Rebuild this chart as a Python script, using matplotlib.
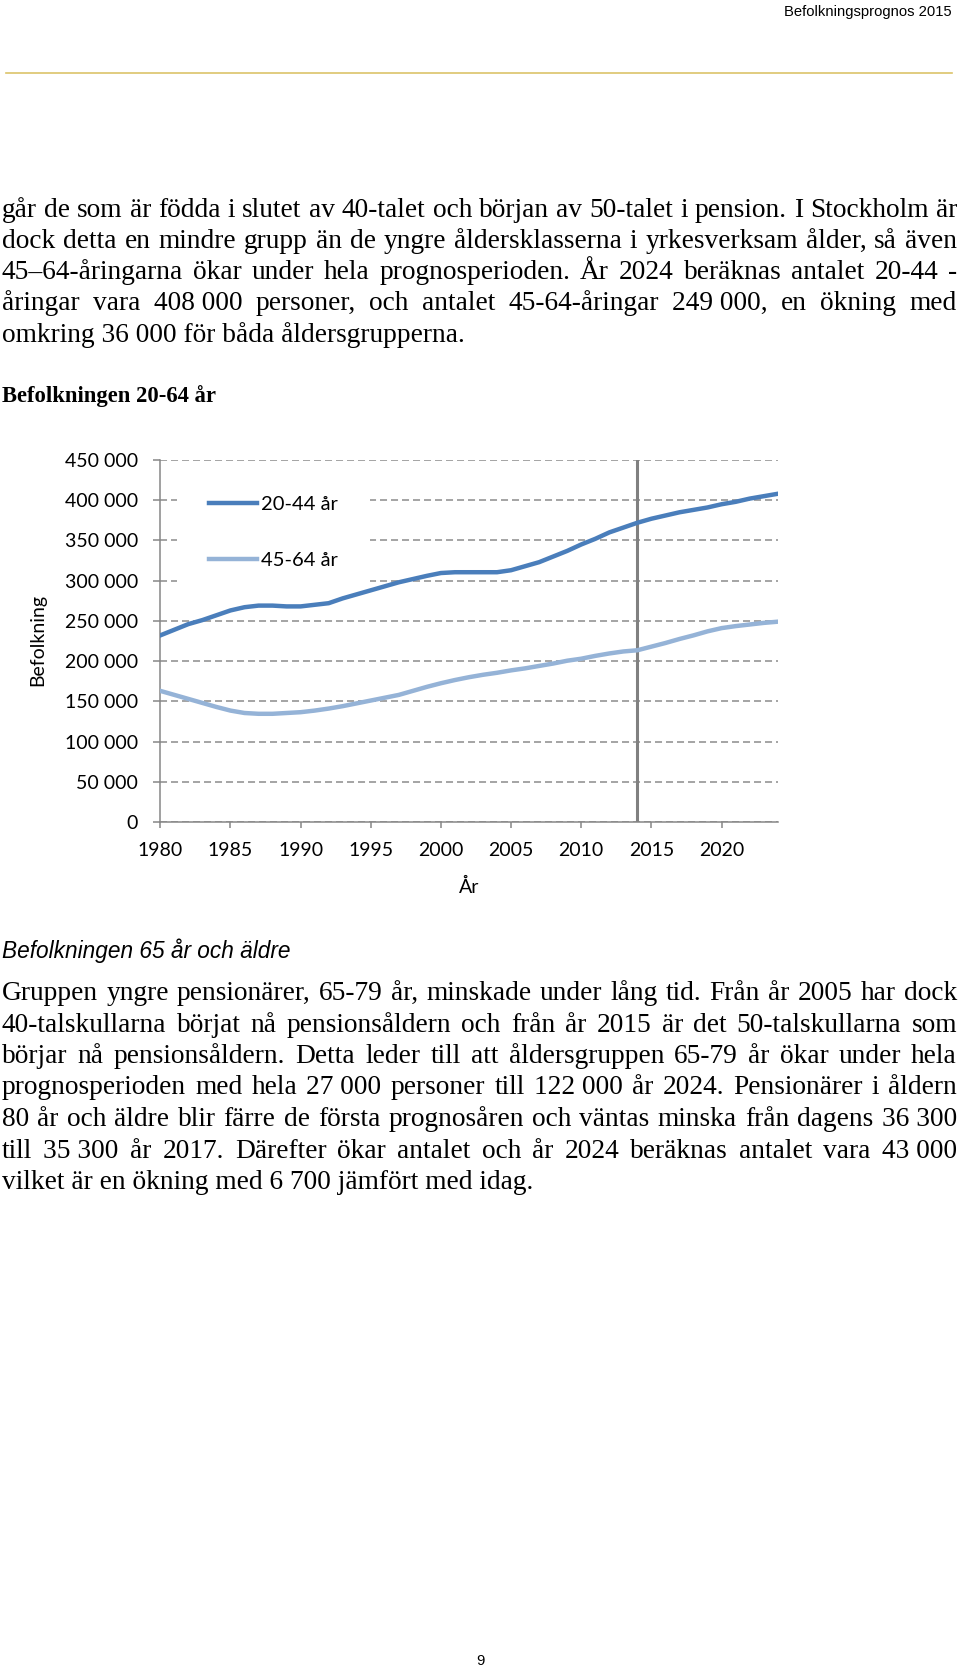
import matplotlib
matplotlib.use("Agg")
import matplotlib.pyplot as plt
from matplotlib.font_manager import FontProperties, findfont, get_font
from matplotlib.lines import Line2D
from matplotlib.patches import Rectangle
from matplotlib.ticker import FuncFormatter, MultipleLocator

# data (population, Stockholm)
years = list(range(1980, 2025))
age_20_44 = [232000, 239000, 246000, 251000, 257000, 263000, 267000, 269000, 269000, 268000,
             268000, 270000, 272000, 278000, 283000, 288000, 293000, 298000, 302000, 306000,
             309500, 310500, 310500, 310500, 310500, 313000, 318000, 323000, 330000, 337000,
             345000, 352000, 360000, 366000, 372000, 377000, 381000, 385000, 388000, 391000,
             395000, 398000, 402000, 405000, 408000]
age_45_64 = [163000, 158000, 153000, 148000, 143000, 138500, 135500, 134500, 134500, 135500,
             136500, 138500, 141000, 144000, 147500, 151000, 154500, 158000, 163000, 168000,
             172500, 176500, 180000, 183000, 185500, 188500, 191000, 194000, 197000, 200500,
             203000, 206500, 209500, 212000, 213500, 218000, 222500, 227500, 232000, 237000,
             241000, 243500, 245500, 247500, 249000]
series_labels = ["20-44 år", "45-64 år"]
forecast_start = 2014
x_ticks = [1980, 1985, 1990, 1995, 2000, 2005, 2010, 2015, 2020]

header = "Befolkningsprognos 2015"
para1 = [
    "går de som är födda i slutet av 40-talet och början av 50-talet i pension. I Stockholm är",
    "dock detta en mindre grupp än de yngre åldersklasserna i yrkesverksam ålder, så även",
    "45–64-åringarna ökar under hela prognosperioden. År 2024 beräknas antalet 20-44 -",
    "åringar vara 408\u00a0000 personer, och antalet 45-64-åringar 249\u00a0000, en ökning med",
    "omkring 36\u00a0000 för båda åldersgrupperna.",
]
heading1 = "Befolkningen 20-64 år"
heading2 = "Befolkningen 65 år och äldre"
para2 = [
    "Gruppen yngre pensionärer, 65-79 år, minskade under lång tid. Från år 2005 har dock",
    "40-talskullarna börjat nå pensionsåldern och från år 2015 är det 50-talskullarna som",
    "börjar nå pensionsåldern. Detta leder till att åldersgruppen 65-79 år ökar under hela",
    "prognosperioden med hela 27\u00a0000 personer till 122\u00a0000 år 2024. Pensionärer i åldern",
    "80 år och äldre blir färre de första prognosåren och väntas minska från dagens 36\u00a0300",
    "till 35\u00a0300 år 2017. Därefter ökar antalet och år 2024 beräknas antalet vara 43\u00a0000",
    "vilket är en ökning med 6\u00a0700 jämfört med idag.",
]

W, H = 960, 1670
fig = plt.figure(figsize=(W / 100, H / 100), dpi=100)
renderer = fig.canvas.get_renderer()


def fx(px):
    return px / W


def fy(py):
    return 1 - py / H


serif = "Liberation Serif"
body_size = 19.7


def agg_row(word, baseline):
    # pixel row where Agg really puts the baseline of a word (it rounds per string)
    try:
        from matplotlib.backends.backend_agg import get_hinting_flag
        font = get_font(findfont(FontProperties(family=serif, size=body_size)))
        font.clear()
        font.set_size(body_size, 100)
        font.set_text(word, 0, flags=get_hinting_flag())
        w, h = font.get_width_height()
        d = font.get_descent()
        y_max = h - d
        return round(baseline + d / 64) + y_max // 64 - h // 64
    except Exception:
        return 0


def text_block(lines, first_baseline, step, x0=2, x1=957):
    # justified lines (one text per word), last line left aligned
    for i, line in enumerate(lines):
        b = first_baseline + i * step
        if i == len(lines) - 1:
            fig.text(fx(x0), fy(b), line, family=serif, fontsize=body_size, va="baseline")
            continue
        words = line.split(" ")
        arts = [fig.text(0, fy(b), w, family=serif, fontsize=body_size, va="baseline") for w in words]
        widths = [a.get_window_extent(renderer).width for a in arts]
        gap = (x1 - x0 - sum(widths)) / (len(words) - 1)
        rows = [agg_row(w, b) for w in words]
        ref = max(set(rows), key=rows.count)
        x = x0
        for a, w, r in zip(arts, widths, rows):
            a.set_position((fx(x), fy(b + (ref - r))))
            x += w + gap


# page header
fig.text(fx(952), fy(16), header, family="Liberation Sans", fontsize=10.6, ha="right", va="baseline")
fig.add_artist(Line2D([fx(6), fx(952)], [fy(72.7), fy(72.7)], color="#dcc46a", lw=1.2))

text_block(para1, 216.7, 31.25)
fig.text(fx(2), fy(401.7), heading1, family=serif, fontsize=16.3, weight="bold", va="baseline")

# chart
ax = fig.add_axes([fx(160.3), fy(822), (777.7 - 160.3) / W, (822 - 460) / H])
dark, light = "#4a7ebb", "#95b3d7"
ax.plot(years, age_20_44, color=dark, lw=3.2, label=series_labels[0], solid_joinstyle="round", zorder=3)
ax.plot(years, age_45_64, color=light, lw=3.2, label=series_labels[1], solid_joinstyle="round", zorder=3)
ax.axvline(forecast_start, color="#808080", lw=2.2, zorder=2)

ax.set_xlim(1980, 2024)
ax.set_ylim(0, 450000)
ax.yaxis.set_major_locator(MultipleLocator(50000))
ax.yaxis.set_major_formatter(FuncFormatter(lambda v, p: f"{int(v):,}".replace(",", " ")))
ax.set_xticks(x_ticks)
ax.grid(axis="y", color="#8c8c8c", lw=1.1, linestyle=(0, (4.6, 2.6)))
ax.set_axisbelow(True)
for side in ["top", "right"]:
    ax.spines[side].set_visible(False)
for side in ["left", "bottom"]:
    ax.spines[side].set_color("#868686")
    ax.spines[side].set_linewidth(1.1)

chart_font = "Lato"
ax.tick_params(axis="y", length=5, width=1.1, color="#868686", pad=11, labelsize=14)
ax.tick_params(axis="x", length=4.3, width=1.1, color="#868686", pad=10, labelsize=14)
for lab in ax.get_xticklabels() + ax.get_yticklabels():
    lab.set_family(chart_font)

ax.set_ylabel("Befolkning", family=chart_font, fontsize=14)
ax.yaxis.set_label_coords((46 - 160.3) / 617.4, (822 - 640) / 362)
ax.set_xlabel("År", family=chart_font, fontsize=14)
ax.xaxis.set_label_coords(0.5, (822 - 878) / 362)

# white legend area hiding the gridlines, as in the original
ax.add_patch(Rectangle((fx(177), fy(586)), (370 - 177) / W, (586 - 470) / H,
                       transform=fig.transFigure, facecolor="white", edgecolor="none", zorder=1))
ax.legend(loc="upper left", bbox_to_anchor=(fx(209), fy(496)), bbox_transform=fig.transFigure,
          frameon=False, borderpad=0, borderaxespad=0, handlelength=2.4, handletextpad=0.2,
          labelspacing=1.92, prop={"family": chart_font, "size": 14.5})

fig.text(fx(2), fy(958), heading2, family="Liberation Sans", fontsize=16.3, style="italic", va="baseline")
text_block(para2, 1000, 31.5)

fig.text(fx(480), fy(1665), "9", family="Liberation Sans", fontsize=10.6, ha="center", va="baseline")

fig.savefig("out.png", dpi=100)
